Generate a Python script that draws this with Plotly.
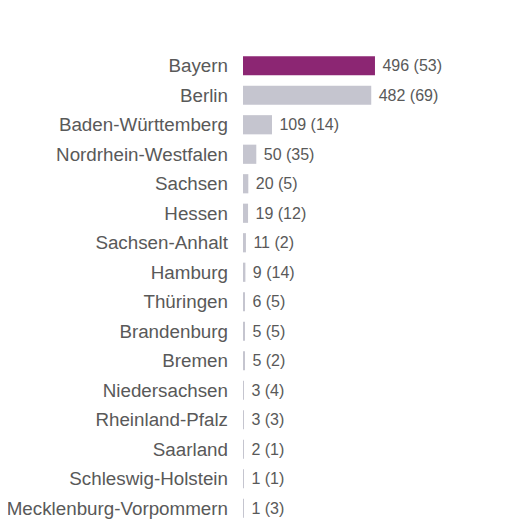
import plotly.graph_objects as go

states = [
    "Bayern", "Berlin", "Baden-Württemberg", "Nordrhein-Westfalen", "Sachsen",
    "Hessen", "Sachsen-Anhalt", "Hamburg", "Thüringen", "Brandenburg", "Bremen",
    "Niedersachsen", "Rheinland-Pfalz", "Saarland", "Schleswig-Holstein",
    "Mecklenburg-Vorpommern",
]
values = [496, 482, 109, 50, 20, 19, 11, 9, 6, 5, 5, 3, 3, 2, 1, 1]
in_brackets = [53, 69, 14, 35, 5, 12, 2, 14, 5, 5, 2, 4, 3, 1, 1, 3]

PURPLE = "#8c2673"
GREY = "#c5c5cf"
TEXT = "#595959"

colors = [PURPLE if s == "Bayern" else GREY for s in states]
# non-breaking space keeps a small gap between bar end and label
labels = [f"\u00a0{v} ({b})" for v, b in zip(values, in_brackets)]

fig = go.Figure(
    go.Bar(
        x=values,
        y=states,
        orientation="h",
        marker=dict(color=colors, line=dict(width=0)),
        text=labels,
        textposition="outside",
        textfont=dict(size=16, color=TEXT),
        cliponaxis=False,
        width=0.65,
    )
)

fig.update_layout(
    width=520,
    height=529,
    template="plotly_white",
    paper_bgcolor="white",
    plot_bgcolor="white",
    font=dict(family="Liberation Sans, Arial, sans-serif", color=TEXT),
    margin=dict(l=235, r=20, t=43, b=14),
    showlegend=False,
    xaxis=dict(range=[0, 996], visible=False, showgrid=False, zeroline=False,
               automargin=False),
    yaxis=dict(
        autorange="reversed",
        automargin=False,
        showgrid=False,
        zeroline=False,
        ticks="",
        ticklabelstandoff=14,
        tickfont=dict(size=18.8, color=TEXT),
    ),
)

fig.write_html("out.html")
